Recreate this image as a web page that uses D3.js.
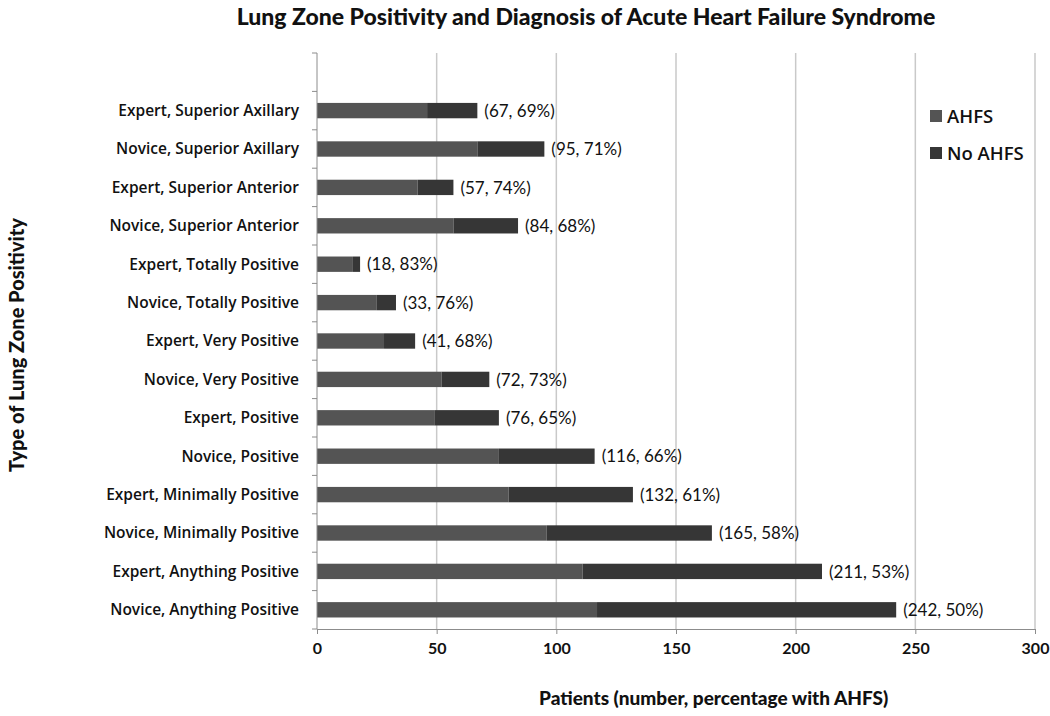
<!DOCTYPE html>
<meta charset="utf-8">
<style>
body { margin: 0; background: #fff; }
.grid line { stroke: #c9c9c9; stroke-width: 1.5px; }
.axis path, .axis line { stroke: #8c8c8c; stroke-width: 1px; }
.cat { font-family: "Open Sans", sans-serif; font-weight: 600; font-size: 15.5px; fill: #111; }
.val { font-family: Lato, sans-serif; font-size: 17px; fill: #111; }
.tick-label { font-family: Lato, sans-serif; font-weight: bold; font-size: 16px; fill: #111; }
.title { font-family: Lato, sans-serif; font-weight: 900; font-size: 19px; fill: #111; }
.legend { font-family: "Open Sans", sans-serif; font-weight: 600; font-size: 18.5px; fill: #111; }
</style>
<body>
<svg id="chart" width="1050" height="716"></svg>
<script src="https://d3js.org/d3.v7.min.js"></script>
<script>

// categories, top to bottom (first band left empty as in the original)
var categories = [
  "",
  "Expert, Superior Axillary",
  "Novice, Superior Axillary",
  "Expert, Superior Anterior",
  "Novice, Superior Anterior",
  "Expert, Totally Positive",
  "Novice, Totally Positive",
  "Expert, Very Positive",
  "Novice, Very Positive",
  "Expert, Positive",
  "Novice, Positive",
  "Expert, Minimally Positive",
  "Novice, Minimally Positive",
  "Expert, Anything Positive",
  "Novice, Anything Positive"
];
var ahfs    = [46, 67, 42, 57, 15, 25, 28, 52, 49, 76, 80, 96, 111, 117];
var noAhfs  = [21, 28, 15, 27,  3,  8, 13, 20, 27, 40, 52, 69, 100, 125];
var labels  = ["(67, 69%)", "(95, 71%)", "(57, 74%)", "(84, 68%)", "(18, 83%)",
               "(33, 76%)", "(41, 68%)", "(72, 73%)", "(76, 65%)", "(116, 66%)",
               "(132, 61%)", "(165, 58%)", "(211, 53%)", "(242, 50%)"];
var xTicks  = [0, 50, 100, 150, 200, 250, 300];
var series  = ["AHFS", "No AHFS"];
var colors  = ["#545454", "#363636"];

var svg = d3.select("#chart");
var mLeft = 317, mRight = 1035, mTop = 53, mBottom = 629;

var x = d3.scaleLinear().domain([0, 300]).range([mLeft, mRight]);
var y = d3.scaleBand().domain(categories).range([mTop, mBottom]).paddingInner(0.6).paddingOuter(0.3);
var yAxisScale = d3.scaleBand().domain(categories).range([mTop, mBottom]);

// gridlines
svg.append("g").attr("class", "grid")
  .selectAll("line").data(xTicks.slice(1)).join("line")
  .attr("x1", d => x(d)).attr("x2", d => x(d))
  .attr("y1", mTop).attr("y2", mBottom);

// bars
var rows = categories.slice(1).map(function(c, i) {
  return {cat: c, a: ahfs[i], b: noAhfs[i], label: labels[i]};
});
var g = svg.append("g");
g.selectAll("rect.a").data(rows).join("rect")
  .attr("class", "a")
  .attr("x", x(0)).attr("y", d => y(d.cat))
  .attr("width", d => x(d.a) - x(0)).attr("height", y.bandwidth())
  .attr("fill", colors[0]);
g.selectAll("rect.b").data(rows).join("rect")
  .attr("class", "b")
  .attr("x", d => x(d.a)).attr("y", d => y(d.cat))
  .attr("width", d => x(d.a + d.b) - x(d.a)).attr("height", y.bandwidth())
  .attr("fill", colors[1]);
g.selectAll("text.val").data(rows).join("text")
  .attr("class", "val")
  .attr("x", d => x(d.a + d.b) + 7)
  .attr("y", d => y(d.cat) + y.bandwidth() / 2)
  .attr("dy", ".36em")
  .text(d => d.label);

// y axis: line and ticks at band boundaries
var yAx = svg.append("g").attr("class", "axis");
yAx.append("line").attr("x1", mLeft).attr("x2", mLeft).attr("y1", mTop).attr("y2", mBottom);
var bounds = categories.map(c => yAxisScale(c)).concat([mBottom]);
yAx.selectAll("line.t").data(bounds).join("line")
  .attr("class", "t")
  .attr("x1", mLeft - 5).attr("x2", mLeft).attr("y1", d => d).attr("y2", d => d);
svg.selectAll("text.cat").data(rows).join("text")
  .attr("class", "cat")
  .attr("x", mLeft - 18)
  .attr("y", d => y(d.cat) + y.bandwidth() / 2)
  .attr("dy", ".35em")
  .attr("text-anchor", "end")
  .text(d => d.cat);

// x axis
var xAxis = svg.append("g").attr("class", "axis")
  .attr("transform", "translate(0," + mBottom + ")")
  .call(d3.axisBottom(x).tickValues(xTicks).tickSize(5).tickSizeOuter(0).tickFormat(d3.format("d")));
xAxis.attr("font-size", null).attr("font-family", null);
xAxis.selectAll("text").attr("class", "tick-label").attr("dy", null).attr("y", 25);

// titles
svg.append("text").attr("class", "title")
  .attr("x", 586).attr("y", 25).attr("text-anchor", "middle")
  .style("font-size", "23px")
  .text("Lung Zone Positivity and Diagnosis of Acute Heart Failure Syndrome");
svg.append("text").attr("class", "title")
  .attr("x", 539).attr("y", 705)
  .style("font-size", "19px")
  .text("Patients (number, percentage with AHFS)");
svg.append("text").attr("class", "title")
  .attr("transform", "translate(24,345) rotate(-90)")
  .attr("text-anchor", "middle")
  .style("font-size", "20px")
  .text("Type of Lung Zone Positivity");

// legend
var leg = svg.append("g").attr("transform", "translate(930,110)");
series.forEach(function(s, i) {
  leg.append("rect").attr("x", 0).attr("y", i * 37).attr("width", 12).attr("height", 12).attr("fill", colors[i]);
  leg.append("text").attr("class", "legend").attr("x", 17).attr("y", i * 37 + 13).text(s);
});
</script>
</body>
